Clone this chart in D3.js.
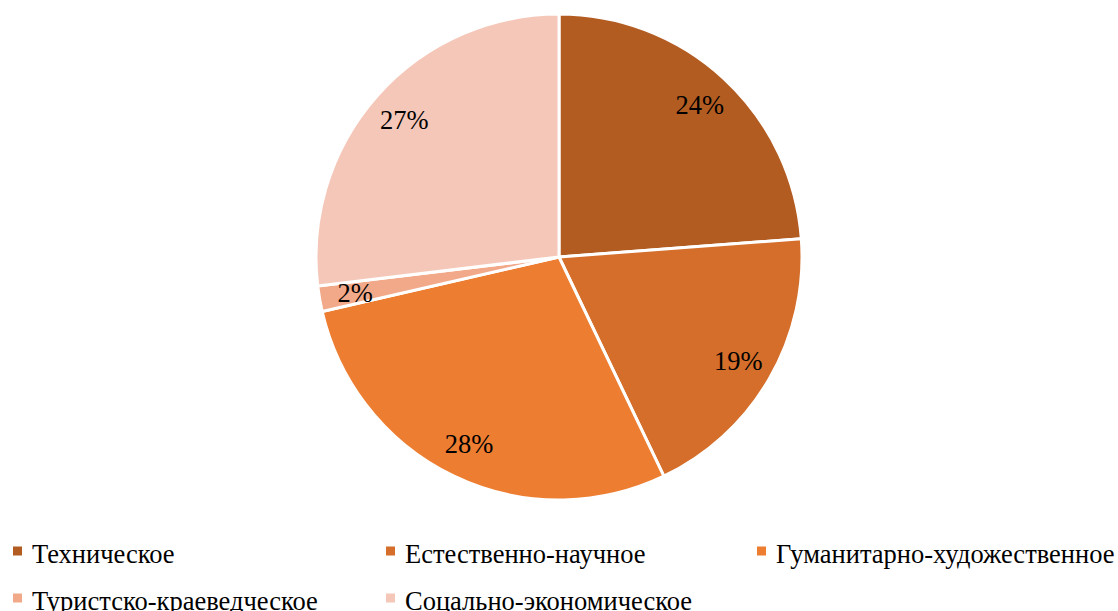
<!DOCTYPE html>
<html><head><meta charset="utf-8">
<script src="https://cdn.jsdelivr.net/npm/d3@7"></script>
<style>body{margin:0;background:#fff}svg{display:block}</style>
</head><body>
<script>
const categories = ["Техническое","Естественно-научное","Гуманитарно-художественное","Туристско-краеведческое","Соцально-экономическое"];
const values = [23.8, 19.1, 28.5, 1.7, 26.9];
const labels = ["24%","19%","28%","2%","27%"];
const colors = ["#B35C22","#D46E2A","#ED7D31","#F2A98A","#F5C7B8"];
const FONT = "'Liberation Serif','Times New Roman',serif";

const W=1118,H=611;
const svg=d3.select("body").append("svg").attr("width",W).attr("height",H);
const cx=559, cy=257, R=243;
const pie=d3.pie().sort(null).value(d=>d)(values);
const arc=d3.arc().innerRadius(0).outerRadius(R);
const labArc=d3.arc().innerRadius(207).outerRadius(207);
const g=svg.append("g").attr("transform",`translate(${cx},${cy})`);
g.selectAll("path").data(pie).join("path")
 .attr("d",arc).attr("fill",(d,i)=>colors[i]).attr("stroke","#fff").attr("stroke-width",3).attr("stroke-linejoin","round");
g.selectAll("text").data(pie).join("text")
 .attr("transform",d=>`translate(${labArc.centroid(d)})`)
 .attr("text-anchor","middle").attr("dy","0.35em")
 .attr("font-size",26.5).attr("fill","#000").attr("font-family",FONT)
 .text((d,i)=>labels[i]);

const legX=[13,386,757], legY=[551,598];
const lg=svg.append("g");
categories.forEach((c,i)=>{
  const x=legX[i%3], y=legY[Math.floor(i/3)];
  lg.append("rect").attr("x",x).attr("y",y-4.5).attr("width",9).attr("height",9).attr("fill",colors[i]);
  lg.append("text").attr("x",x+19).attr("y",y+12).attr("font-family",FONT)
    .attr("font-size",26.5).attr("fill","#000").text(c);
});
</script>
</body></html>
